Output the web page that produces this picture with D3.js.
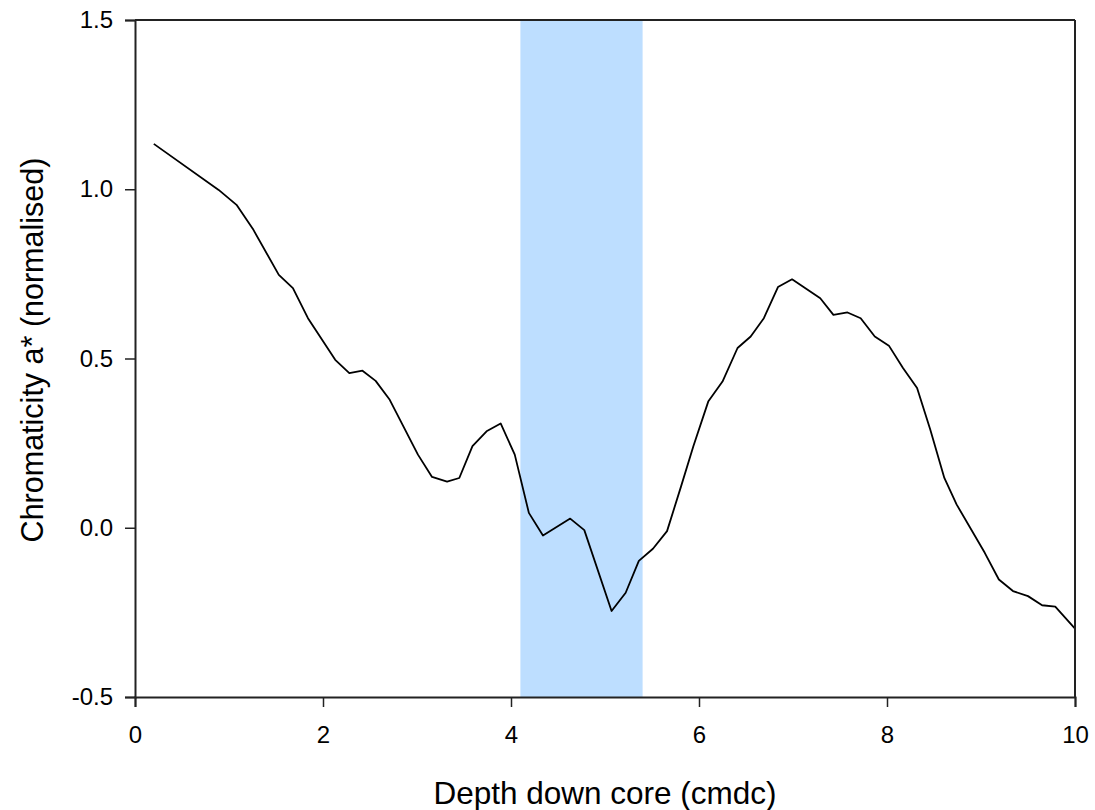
<!DOCTYPE html>
<html>
<head>
<meta charset="utf-8">
<script src="https://cdn.jsdelivr.net/npm/d3@7"></script>
<style>
  body { margin: 0; background: #fff; }
  text { font-family: "Liberation Sans", Arial, sans-serif; fill: #000; }
</style>
</head>
<body>
<script>
// core profile
var depth = [0.20, 0.89, 1.08, 1.26, 1.53, 1.68, 1.84, 2.13, 2.28, 2.42, 2.56, 2.71,
    3.01, 3.16, 3.32, 3.45, 3.59, 3.74, 3.89, 4.04, 4.19, 4.34, 4.63, 4.78,
    5.07, 5.22, 5.36, 5.51, 5.66, 5.81, 5.94, 6.10, 6.25, 6.41, 6.55, 6.69,
    6.84, 6.99, 7.29, 7.43, 7.58, 7.72, 7.87, 8.02, 8.17, 8.32, 8.46, 8.61,
    8.74, 9.04, 9.19, 9.34, 9.50, 9.65, 9.79, 10.0];
var chroma = [1.134, 0.998, 0.954, 0.880, 0.747, 0.708, 0.619, 0.496, 0.457, 0.464, 0.434, 0.378,
    0.216, 0.150, 0.136, 0.147, 0.241, 0.285, 0.308, 0.216, 0.044, -0.023, 0.027, -0.007,
    -0.246, -0.192, -0.098, -0.062, -0.010, 0.123, 0.241, 0.374, 0.432, 0.531, 0.565, 0.619,
    0.711, 0.734, 0.678, 0.629, 0.636, 0.619, 0.565, 0.538, 0.472, 0.413, 0.290, 0.147,
    0.069, -0.074, -0.153, -0.187, -0.202, -0.229, -0.233, -0.298];

// shaded interval
var band = [4.1, 5.4];

var xTicks = [0, 2, 4, 6, 8, 10];
var yTicks = [-0.5, 0.0, 0.5, 1.0, 1.5];

var width = 1095, height = 810;
// note: "top" is taken by window.top, so prefix these
var plotLeft = 135, plotRight = 1075, plotTop = 20, plotBottom = 697;
var axisColor = "#222";

var svg = d3.select("body").append("svg")
    .attr("width", width)
    .attr("height", height);

var xScale = d3.scaleLinear().domain([0, 10]).range([plotLeft, plotRight]);
var yScale = d3.scaleLinear().domain([-0.5, 1.5]).range([plotBottom, plotTop]);

// blue band
svg.append("rect")
    .attr("x", xScale(band[0]))
    .attr("y", plotTop)
    .attr("width", xScale(band[1]) - xScale(band[0]))
    .attr("height", plotBottom - plotTop)
    .style("fill", "rgb(189,222,255)");

var data = depth.map(function (d, i) {
    return { x: d, y: chroma[i] };
});

var valueLine = d3.line()
    .x(function (d) { return xScale(d.x); })
    .y(function (d) { return yScale(d.y); });

svg.append("path")
    .datum(data)
    .attr("d", valueLine)
    .style("fill", "none")
    .style("stroke", "#000")
    .style("stroke-width", 1.8)
    .style("stroke-linejoin", "round");

// frame lines top + right
svg.append("line")
    .attr("x1", plotLeft).attr("x2", plotRight)
    .attr("y1", plotTop).attr("y2", plotTop)
    .style("stroke", axisColor).style("stroke-width", 2);
svg.append("line")
    .attr("x1", plotRight).attr("x2", plotRight)
    .attr("y1", plotTop).attr("y2", plotBottom)
    .style("stroke", axisColor).style("stroke-width", 2);

var fmt1 = d3.format(".1f");

var x_axis = d3.axisBottom(xScale)
    .tickValues(xTicks)
    .tickSize(10)
    .tickPadding(19)
    .tickFormat(d3.format("d"));

var y_axis = d3.axisLeft(yScale)
    .tickValues(yTicks)
    .tickSize(10)
    .tickPadding(12)
    .tickFormat(function (d) {
        // plain hyphen like the original, not the unicode minus
        return fmt1(d).replace("\u2212", "-");
    });

var gx = svg.append("g")
    .attr("transform", "translate(0," + plotBottom + ")")
    .call(x_axis);

var gy = svg.append("g")
    .attr("transform", "translate(" + plotLeft + ",0)")
    .call(y_axis);

[gx, gy].forEach(function (g) {
    g.attr("font-size", null).attr("font-family", null);
    g.select(".domain").style("stroke", axisColor).style("stroke-width", 2);
    g.selectAll(".tick line").style("stroke", axisColor).style("stroke-width", 1.5);
    g.selectAll(".tick text")
        .style("font-size", "24px")
        .style("fill", "#000");
});

// axis titles
svg.append("text")
    .attr("x", (plotLeft + plotRight) / 2)
    .attr("y", 804)
    .attr("text-anchor", "middle")
    .style("font-size", "31.5px")
    .text("Depth down core (cmdc)");

svg.append("text")
    .attr("transform", "translate(43," + 350 + ") rotate(-90)")
    .attr("text-anchor", "middle")
    .style("font-size", "30.5px")
    .text("Chromaticity a* (normalised)");
</script>
</body>
</html>
